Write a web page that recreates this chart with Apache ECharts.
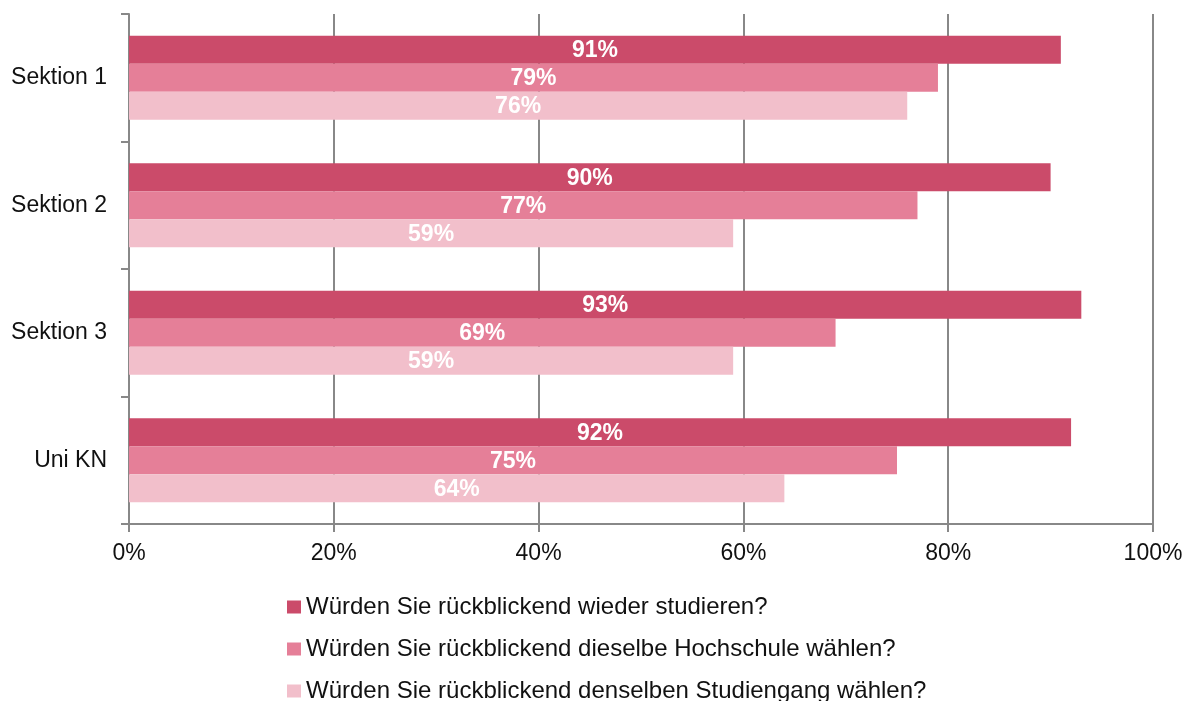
<!DOCTYPE html>
<html><head><meta charset="utf-8">
<script src="https://cdn.jsdelivr.net/npm/echarts@6/dist/echarts.min.js"></script>
<style>html,body{margin:0;padding:0;background:#fff}#c{width:1193px;height:701px}</style>
</head><body><div id="c"></div>
<script>
const categories = ["Sektion 1", "Sektion 2", "Sektion 3", "Uni KN"];
const seriesNames = [
  "Würden Sie rückblickend wieder studieren?",
  "Würden Sie rückblickend dieselbe Hochschule wählen?",
  "Würden Sie rückblickend denselben Studiengang wählen?"
];
const studieren = [91, 90, 93, 92];
const hochschule = [79, 77, 69, 75];
const studiengang = [76, 59, 59, 64];
const colors = ["#CB4B6A", "#E57F98", "#F2BFCB"];

const font = "'Liberation Sans', Arial, sans-serif";
const values = [studieren, hochschule, studiengang];
const chart = echarts.init(document.getElementById('c'), null, {renderer: 'canvas'});
chart.setOption({
  animation: false,
  textStyle: {fontFamily: font},
  grid: {left: 129, right: 40, top: 14, bottom: 177, containLabel: false},
  legend: {
    orient: 'horizontal', left: 287, top: 595, width: 10, itemGap: 18,
    itemWidth: 14, itemHeight: 13, icon: 'rect', padding: 0,
    textStyle: {fontSize: 24, color: '#111', fontFamily: font},
    data: seriesNames
  },
  xAxis: {
    type: 'value', min: 0, max: 100, interval: 20,
    axisLine: {show: true, lineStyle: {color: '#888', width: 2}},
    axisTick: {show: true, length: 8, lineStyle: {color: '#888', width: 2}},
    splitLine: {show: true, lineStyle: {color: '#888', width: 2}},
    axisLabel: {fontSize: 23, color: '#111', margin: 18, fontFamily: font, formatter: v => v + '%'}
  },
  yAxis: {
    type: 'category', data: categories, inverse: true,
    axisLine: {show: true, lineStyle: {color: '#888', width: 2}},
    axisTick: {show: true, length: 8, inside: false, lineStyle: {color: '#888', width: 2}},
    axisLabel: {fontSize: 23, color: '#111', margin: 22, fontFamily: font, padding: [4, 0, 0, 0]}
  },
  series: seriesNames.map((n, i) => ({
    name: n, type: 'bar', data: values[i],
    barGap: '0%', barCategoryGap: '34%',
    itemStyle: {color: colors[i]},
    label: {show: true, position: 'inside', color: '#fff', fontWeight: 'bold', fontSize: 23,
      offset: [0, 1], fontFamily: font, formatter: p => p.value + '%'}
  }))
});
</script></body></html>
